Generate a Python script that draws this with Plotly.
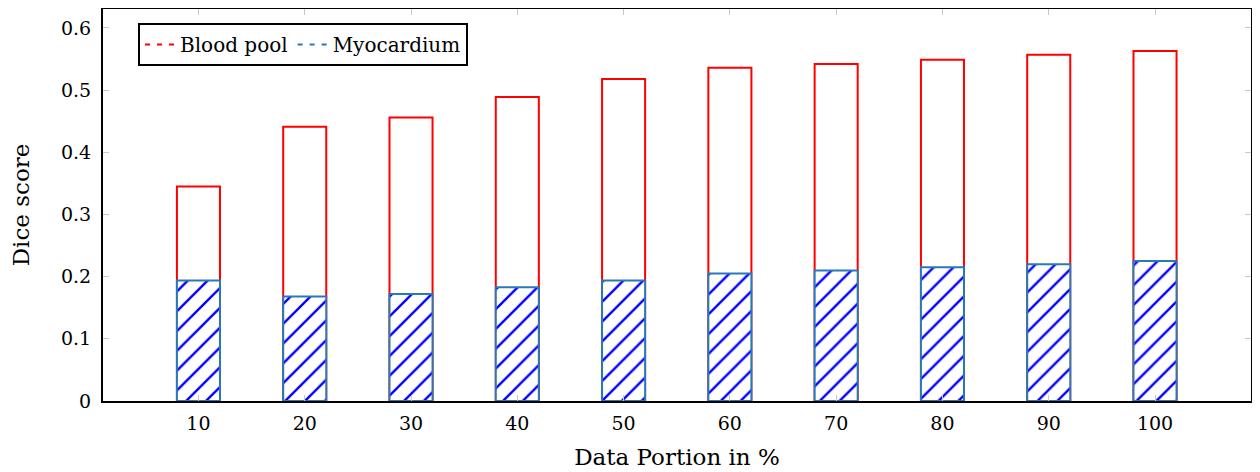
import plotly.graph_objects as go

portions = [10, 20, 30, 40, 50, 60, 70, 80, 90, 100]
tick_labels = [str(p) for p in portions]
blood_pool = [0.345, 0.441, 0.456, 0.489, 0.518, 0.536, 0.542, 0.549, 0.557, 0.563]
myocardium = [0.194, 0.168, 0.172, 0.183, 0.194, 0.205, 0.210, 0.215, 0.220, 0.225]

FONT = "DejaVu Serif"
RED = "#ff0000"
STEEL = "#2a78b8"
BLUE = "#0000ff"

fig = go.Figure()
fig.add_trace(go.Bar(
    x=portions, y=blood_pool, width=4.05, name="Blood pool", showlegend=False,
    marker=dict(color="white", line=dict(color=RED, width=2)),
))
fig.add_trace(go.Bar(
    x=portions, y=myocardium, width=4.05, name="Myocardium", showlegend=False,
    marker=dict(color="white", line=dict(color=STEEL, width=2),
                pattern=dict(shape="/", fgcolor=BLUE, bgcolor="white", fgopacity=1,
                             size=14, solidity=0.17)),
))
# legend entries (dashed line samples)
fig.add_trace(go.Scatter(x=[None], y=[None], mode="lines", name="Blood pool",
                         line=dict(color=RED, width=2, dash="5px,7px")))
fig.add_trace(go.Scatter(x=[None], y=[None], mode="lines", name="Myocardium",
                         line=dict(color=STEEL, width=2, dash="5px,7px")))

# the page body has an 8px margin, so the figure is sized to fit what remains
fig.update_layout(
    width=1252, height=464,
    margin=dict(l=95, r=9, t=1, b=71),
    barmode="overlay",
    plot_bgcolor="white", paper_bgcolor="white",
    font=dict(family=FONT, size=19, color="black"),
    legend=dict(orientation="h", x=0.0305, y=0.964, xanchor="left", yanchor="top",
                bordercolor="black", borderwidth=2, bgcolor="white",
                font=dict(family=FONT, size=20), itemwidth=30, tracegroupgap=0),
    xaxis=dict(range=[1.02, 109.03], tickvals=portions, ticktext=tick_labels,
               automargin=False,
               showgrid=False, zeroline=False, showline=True, linecolor="black", linewidth=2,
               mirror="allticks", ticks="inside", ticklen=6, tickcolor="#c8c8c8", tickwidth=1,
               ticklabelstandoff=4,
               title=dict(text="Data Portion in %", standoff=16),
               tickfont=dict(size=19)),
    yaxis=dict(range=[0, 0.6305], tickvals=[0, 0.1, 0.2, 0.3, 0.4, 0.5, 0.6],
               ticktext=["0", "0.1", "0.2", "0.3", "0.4", "0.5", "0.6"],
               automargin=False,
               showgrid=False, zeroline=False, showline=True, linecolor="black", linewidth=2,
               mirror="allticks", ticks="inside", ticklen=6, tickcolor="#c8c8c8", tickwidth=1,
               ticklabelstandoff=6,
               title=dict(text="Dice score", standoff=26),
               tickfont=dict(size=19)),
)

fig.write_html("out.html")
